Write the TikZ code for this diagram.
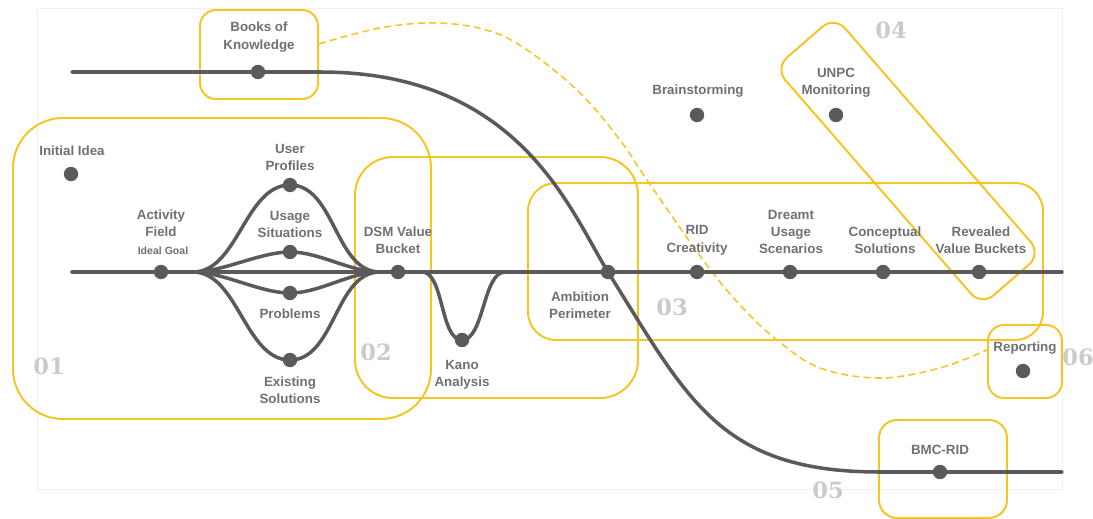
\documentclass[tikz,border=0pt]{standalone}
\usepackage{fontspec}
\setmainfont{Liberation Sans}
\newfontfamily\numfont{DejaVu Serif}
\usetikzlibrary{positioning}

\definecolor{trackgray}{HTML}{5A5A5A}
\definecolor{lblgray}{HTML}{707070}
\definecolor{numgray}{HTML}{CBCBCB}
\definecolor{boxyellow}{HTML}{F5C523}

\tikzset{
  track/.style={line width=2.5pt, trackgray, line cap=round},
  dot/.style={circle, fill=trackgray, inner sep=0pt, minimum size=0.36cm},
  lbl/.style={text=lblgray, font=\bfseries\fontsize{9.5}{12.4}\selectfont, align=center, inner sep=0pt},
  smalllbl/.style={lbl, font=\bfseries\fontsize{7.5}{9}\selectfont},
  num/.style={text=numgray, font=\numfont\bfseries\fontsize{16}{20}\selectfont, inner sep=0pt},
  ybox/.style={draw=boxyellow, line width=1.4pt},
}

\begin{document}
\begin{tikzpicture}[x=0.025cm, y=-0.025cm]

    % Canvas
    \useasboundingbox (0,0) rectangle (1093,519);
    \draw[black!6, line width=0.6pt] (37,8) rectangle (1062,489);

    % Yellow frames
    \draw[ybox, rounded corners=1.25cm] (13,118) rectangle (431,419);
    \draw[ybox, rounded corners=0.95cm] (355,157) rectangle (638,398);
    \draw[ybox, rounded corners=0.7cm] (528,183) rectangle (1043,340);
    \draw[ybox, rounded corners=0.4cm, rotate around={-49:(908,161)}]
        (750.5,121.5) rectangle (1065.5,200.5);
    \draw[ybox, rounded corners=0.45cm] (879,420) rectangle (1007,518);
    \node[ybox, rounded corners=0.4cm, minimum width=2.95cm, minimum height=2.225cm] (bokbox) at (259,54.5) {};
    \node[ybox, rounded corners=0.4cm, minimum width=1.85cm, minimum height=1.825cm] (repbox) at (1025,361.5) {};

    % Dashed link
    \draw[boxyellow, line width=1.1pt, dash pattern=on 5pt off 3pt] plot[smooth, tension=0.6] coordinates {
        (bokbox.10) (380,28) (437,23) (490,31) (530,52) (580,93) (620,140)
        (647,180) (703,260) (740,305) (777,340) (820,368) (880,378) (940,368) (repbox.163)};

    % Main track
    \coordinate (mstart) at (72,272);
    \coordinate (mend) at (1062,272);
    \coordinate (split) at (193,272);
    \coordinate (merge) at (380,272);
    \draw[track] (mstart) -- (mend);

    % Upper track
    \coordinate (ustart) at (72,72);
    \coordinate (ubend) at (320,72);
    \coordinate (ulow) at (880,472);
    \coordinate (uend) at (1062,472);
    \draw[track] (ustart) -- (ubend)
        .. controls (520,72) and (570,211) .. (608,272)
        .. controls (688,400) and (720,472) .. (ulow) -- (uend);

    % Dots
    \node[dot] (bok) at (258,72) {};
    \node[dot] (ini) at (71,174) {};
    \node[dot] (act) at (161,272) {};
    \node[dot] (usr) at (290,185) {};
    \node[dot] (usg) at (290,252) {};
    \node[dot] (prb) at (290,293) {};
    \node[dot] (exs) at (290,360) {};
    \node[dot] (dsm) at (398,272) {};
    \node[dot] (kno) at (462,340) {};
    \node[dot] (amb) at (608,272) {};
    \node[dot] (rid) at (697,272) {};
    \node[dot] (drm) at (790,272) {};
    \node[dot] (cnc) at (883,272) {};
    \node[dot] (rvl) at (979,272) {};
    \node[dot] (brn) at (697,115) {};
    \node[dot] (unp) at (836,115) {};
    \node[dot] (rep) at (1023,371) {};
    \node[dot] (bmc) at (940,472) {};

    % Branches between activity field and DSM
    \foreach \b/\h in {usr/45, usg/30, prb/30, exs/45} {
        \draw[track] (split) .. controls +(\h,0) and +(-\h,0) .. (\b.center)
                             .. controls +(\h,0) and +(-\h,0) .. (merge);
    }

    % Kano dip
    \draw[track] (422,272) .. controls +(22,0) and +(-22,0) .. (kno.center)
                           .. controls +(22,0) and +(-22,0) .. (505,272);

    % Labels
    \node[lbl] (bokl) at (259,37) {Books of\\Knowledge};
    \node[lbl] (inil) at (72,151) {Initial Idea};
    \node[lbl] (actl) at (161,223) {Activity\\Field};
    \node[smalllbl] (goal) at (163,251) {Ideal Goal};
    \node[lbl] (usrl) at (290,157.5) {User\\Profiles};
    \node[lbl] (usgl) at (290,224.5) {Usage\\Situations};
    \node[lbl] (prbl) at (290,314) {Problems};
    \node[lbl] (exsl) at (290,390) {Existing\\Solutions};
    \node[lbl] (dsml) at (398,240.5) {DSM Value\\Bucket};
    \node[lbl] (knol) at (462,375) {Kano\\Analysis};
    \node[lbl] (ambl) at (580,305.5) {Ambition\\Perimeter};
    \node[lbl] (ridl) at (697,240.5) {RID\\Creativity};
    \node[lbl] (drml) at (791,232) {Dreamt\\Usage\\Scenarios};
    \node[lbl] (cncl) at (885,240.5) {Conceptual\\Solutions};
    \node[lbl] (rvll) at (981,240.5) {Revealed\\Value Buckets};
    \node[lbl] (brnl) at (698,91) {Brainstorming};
    \node[lbl] (unpl) at (836,82.5) {UNPC\\Monitoring};
    \node[lbl] (repl) at (1025,348) {Reporting};
    \node[lbl] (bmcl) at (940,450) {BMC-RID};

    % Phase numbers
    \node[num] (n1) at (49,366) {01};
    \node[num] (n2) at (376,352) {02};
    \node[num] (n3) at (672,307) {03};
    \node[num] (n4) at (891,30) {04};
    \node[num] (n5) at (828,490) {05};
    \node[num] (n6) at (1078,357) {06};

\end{tikzpicture}
\end{document}
